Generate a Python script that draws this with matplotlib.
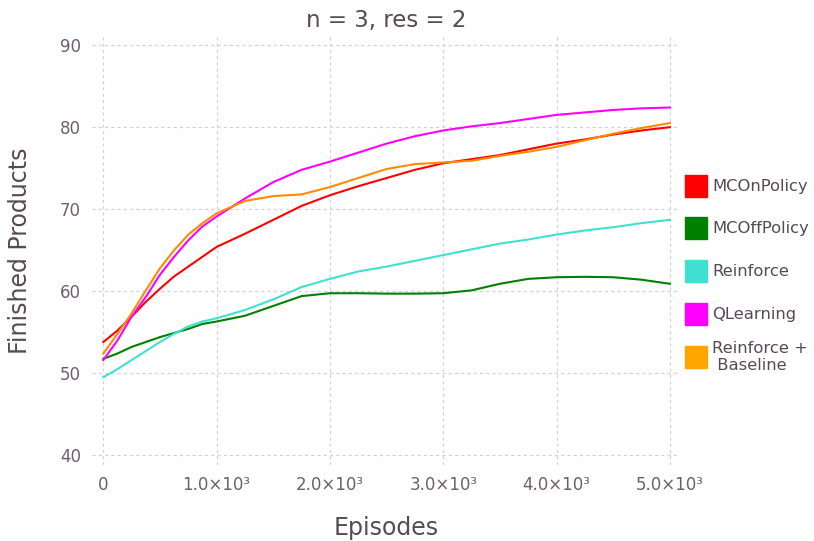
import matplotlib
matplotlib.use("Agg")
import matplotlib.pyplot as plt
from matplotlib.patches import Rectangle

episodes = [0, 125, 250, 375, 500, 625, 750, 875, 1000, 1250, 1500, 1750, 2000,
            2250, 2500, 2750, 3000, 3250, 3500, 3750, 4000, 4250, 4500, 4750, 5000]

mc_on_policy = [53.8, 55.2, 56.9, 58.7, 60.3, 61.8, 63.0, 64.2, 65.4, 67.0, 68.7, 70.4, 71.7,
                72.8, 73.8, 74.8, 75.6, 76.1, 76.6, 77.3, 78.0, 78.5, 79.1, 79.6, 80.0]
mc_off_policy = [51.75, 52.4, 53.2, 53.8, 54.4, 54.9, 55.4, 56.0, 56.3, 57.0, 58.2, 59.4, 59.75,
                 59.75, 59.7, 59.7, 59.75, 60.1, 60.9, 61.5, 61.7, 61.75, 61.7, 61.4, 60.9]
reinforce = [49.5, 50.5, 51.6, 52.7, 53.8, 54.8, 55.7, 56.3, 56.7, 57.7, 59.0, 60.5, 61.5,
             62.4, 63.0, 63.7, 64.4, 65.1, 65.8, 66.3, 66.9, 67.4, 67.8, 68.3, 68.7]
q_learning = [51.6, 54.0, 56.9, 59.3, 62.0, 64.2, 66.2, 67.9, 69.1, 71.3, 73.3, 74.8, 75.8,
              76.9, 78.0, 78.9, 79.6, 80.1, 80.5, 81.0, 81.5, 81.8, 82.1, 82.3, 82.4]
reinforce_baseline = [52.4, 54.8, 57.3, 60.1, 62.8, 65.0, 66.9, 68.3, 69.5, 71.0, 71.6, 71.8, 72.7,
                      73.8, 74.9, 75.5, 75.7, 75.9, 76.5, 77.0, 77.6, 78.4, 79.2, 79.9, 80.5]

labels = ["MCOnPolicy", "MCOffPolicy", "Reinforce", "QLearning", "Reinforce +\n Baseline"]
series = [mc_on_policy, mc_off_policy, reinforce, q_learning, reinforce_baseline]
colors = ["#FF0000", "#008000", "#40E0D0", "#FF00FF", "#FFA500"]
line_colors = ["#FF0000", "#008000", "#40E0D0", "#FF00FF", "#FF8C00"]

x_ticks = [0, 1000, 2000, 3000, 4000, 5000]
x_tick_labels = ["0", "1.0×10³", "2.0×10³", "3.0×10³", "4.0×10³", "5.0×10³"]
y_ticks = [40, 50, 60, 70, 80, 90]

TXT = "#564A55"
TICK = "#6C606B"
GRID = "#D0D0E0"

fig = plt.figure(figsize=(8.14, 5.41), dpi=100)
ax = fig.add_axes([92 / 814, 1 - 465 / 541, (680 - 92) / 814, (465 - 37) / 541])

for ys, c in zip(series, line_colors):
    ax.plot(episodes, ys, color=c, lw=1.5, zorder=3)

ax.set_xlim(-100, 5090)
ax.set_ylim(38.8, 91.0)
ax.set_xticks(x_ticks)
ax.set_xticklabels(x_tick_labels)
ax.set_yticks(y_ticks)
ax.grid(True, color=GRID, lw=0.9, linestyle=(0, (2.5, 2.5)))
ax.tick_params(length=0, labelsize=12, colors=TICK, pad=8)
for s in ax.spines.values():
    s.set_visible(False)

ax.set_title("n = 3, res = 2", fontsize=16.5, color=TXT, pad=7)
ax.set_xlabel("Episodes", fontsize=17, color=TXT, labelpad=16)
ax.set_ylabel("Finished Products", fontsize=17, color=TXT, labelpad=20)

# legend drawn by hand, gadfly style
legend_y = [186, 228, 271, 314, 357]
for lab, c, py in zip(labels, colors, legend_y):
    fig.patches.append(Rectangle((685 / 814, 1 - (py + 11) / 541), 22 / 814, 22 / 541,
                                 transform=fig.transFigure, color=c))
    fig.text(712 / 814, 1 - py / 541, lab, fontsize=11.8, color=TXT,
             va="center", ha="left", linespacing=1.15)

fig.savefig("out.png", dpi=100)
